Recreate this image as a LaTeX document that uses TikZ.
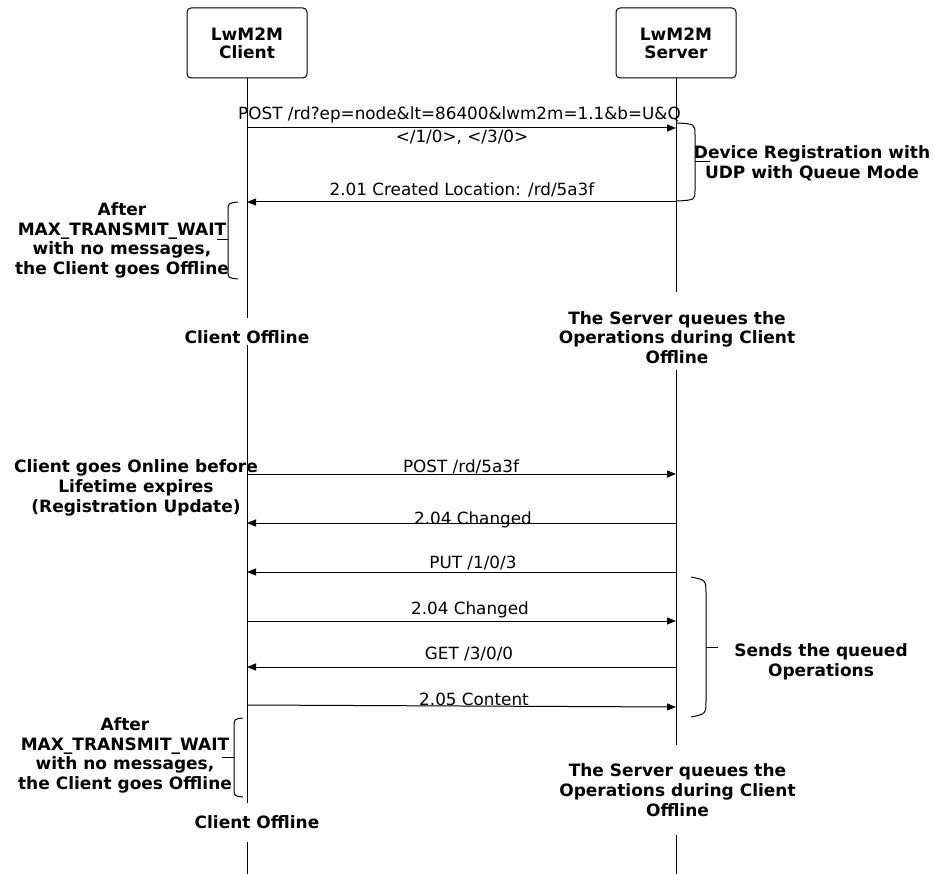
\documentclass[tikz,border=0pt]{standalone}
\usepackage{fontspec}
\setmainfont{DejaVu Sans}
\usetikzlibrary{arrows.meta}

\begin{document}
\begin{tikzpicture}[x=1pt,y=-1pt,line width=1pt,
	actor/.style={draw,rounded corners=4pt,minimum width=120pt,minimum height=70pt,align=center,inner sep=0pt,font=\bfseries\fontsize{17}{18}\selectfont},
	msg/.style={-{Triangle[length=9pt,width=7pt]}},
	lbl/.style={anchor=base,inner sep=0pt,font=\fontsize{16.8}{20}\selectfont},
	note/.style={align=center,inner sep=0pt,font=\bfseries\fontsize{17}{19.7}\selectfont}]
	\useasboundingbox (0,0) rectangle (934,874);
	% Actors %
	\node [actor] (client) at (247,43) {LwM2M\\Client};
	\node [actor] (server) at (676,43) {LwM2M\\Server};
	% Lifelines %
	\coordinate (c1) at (247,318); \coordinate (c2) at (247,345); \coordinate (c3) at (247,803);
	\coordinate (c4) at (247,842); \coordinate (c5) at (247,874);
	\coordinate (s1) at (676,292); \coordinate (s2) at (676,370); \coordinate (s3) at (676,745);
	\coordinate (s4) at (676,835); \coordinate (s5) at (676,874);
	\draw (client) -- (c1); \draw (c2) -- (c3); \draw (c4) -- (c5);
	\draw (server) -- (s1); \draw (s2) -- (s3); \draw (s4) -- (s5);
	% Messages %
	\foreach \n/\y in {1/128,2/202,3/474,4/523,5/572,6/621,7/667} {\coordinate (cm\n) at (247,\y); \coordinate (sm\n) at (676,\y);}
	\coordinate (cm8) at (247,705); \coordinate (sm8) at (676,707);
	\draw [msg] (cm1) -- (sm1);
	\draw [msg] (sm2) -- (cm2);
	\draw [msg] (cm3) -- (sm3);
	\draw [msg] (sm4) -- (cm4);
	\draw [msg] (sm5) -- (cm5);
	\draw [msg] (cm6) -- (sm6);
	\draw [msg] (sm7) -- (cm7);
	\draw [msg] (cm8) -- (sm8);
	\node [lbl] (l1) at (459.5,120) {POST /rd?ep=node\&lt=86400\&lwm2m=1.1\&b=U\&Q};
	\node [lbl] (l2) at (462,143) {</1/0>, </3/0>};
	\node [lbl] (l3) at (462,196) {2.01 Created Location: /rd/5a3f};
	\node [lbl] (l4) at (461,472) {POST /rd/5a3f};
	\node [lbl] (l5) at (473,524) {2.04 Changed};
	\node [lbl] (l6) at (473,568) {PUT /1/0/3};
	\node [lbl] (l7) at (470,614) {2.04 Changed};
	\node [lbl] (l8) at (469,659) {GET /3/0/0};
	\node [lbl] (l9) at (474,705) {2.05 Content};
	% Notes %
	\node [note] (reg) at (812,163.5) {Device Registration with\\UDP with Queue Mode};
	\node [note] (wait1) at (122,240.5) {After\\MAX\_TRANSMIT\_WAIT\\with no messages,\\the Client goes Offline};
	\node [note] (off1) at (247,337.5) {Client Offline};
	\node [note] (queue1) at (677,337.5) {The Server queues the\\Operations during Client\\Offline};
	\node [note] (online) at (136,488) {Client goes Online before\\Lifetime expires\\(Registration Update)};
	\node [note] (sends) at (821,662) {Sends the queued\\Operations};
	\node [note] (wait2) at (125,755.5) {After\\MAX\_TRANSMIT\_WAIT\\with no messages,\\the Client goes Offline};
	\node [note] (queue2) at (677.5,790) {The Server queues the\\Operations during Client\\Offline};
	\node [note] (off2) at (257,822.5) {Client Offline};
	% Braces %
	\draw (677,123) .. controls (695,124) .. (695,135) -- (695,190) .. controls (695,200) .. (677,201);
	\draw (695,162) -- (710,162);
	\draw (238,202) .. controls (228,203) .. (228,212) -- (228,270) .. controls (228,278) .. (238,279);
	\draw (228,240) -- (217,240);
	\draw (691,577) .. controls (706,580) .. (706,595) -- (706,700) .. controls (706,714) .. (691,717);
	\draw (706,647) -- (718,647);
	\draw (243,718) .. controls (234,719) .. (234,728) -- (234,788) .. controls (234,796) .. (243,797);
	\draw (234,757) -- (222,757);
\end{tikzpicture}
\end{document}
